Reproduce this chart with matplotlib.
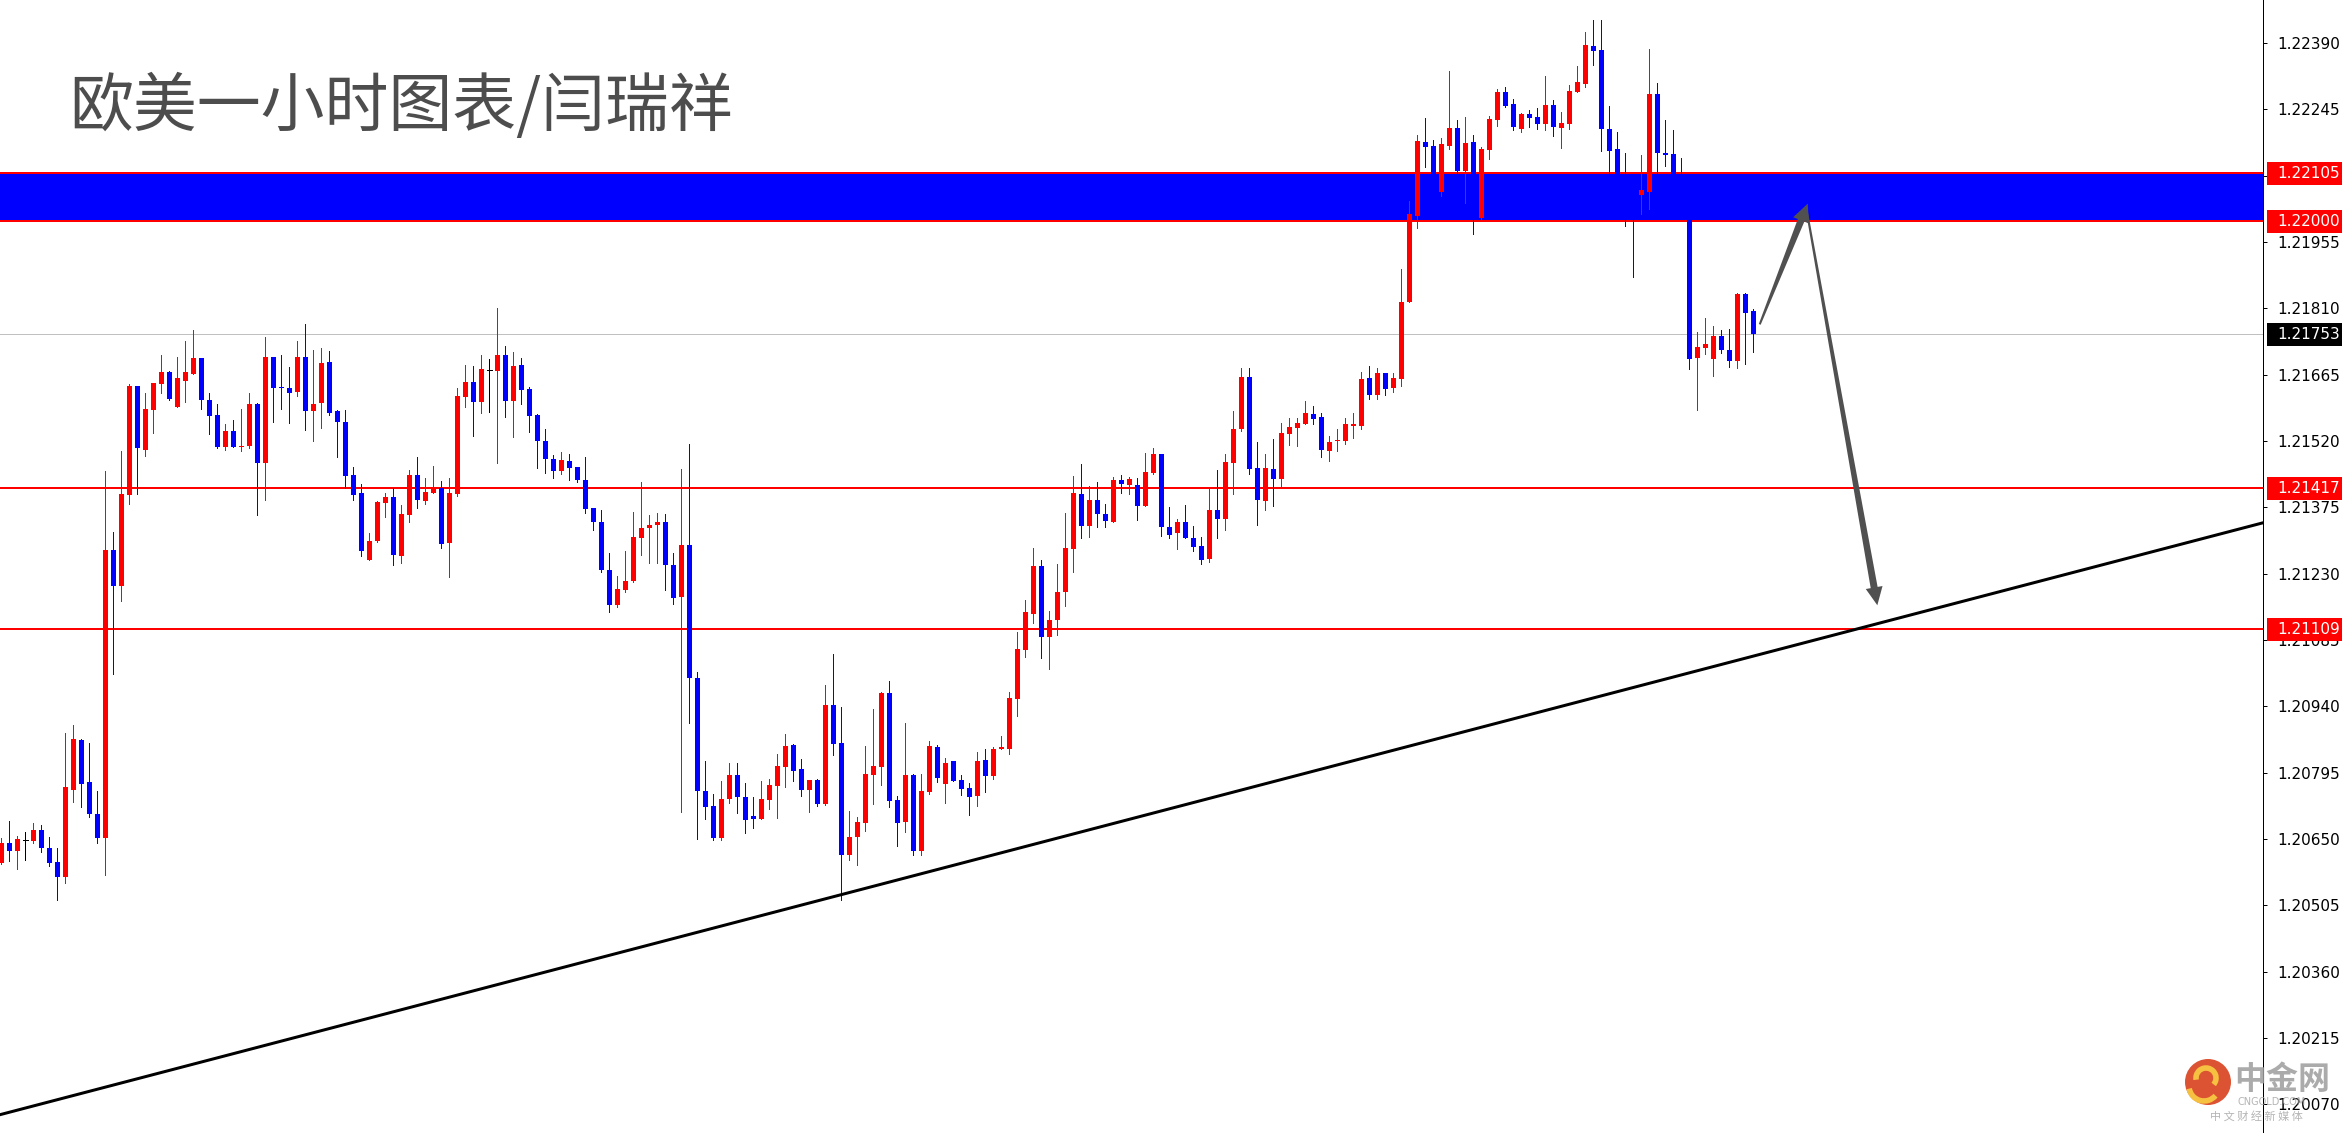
import numpy as np
import matplotlib
matplotlib.use("Agg")
import matplotlib.pyplot as plt
from matplotlib.patches import Polygon, Rectangle, Ellipse, Arc
import matplotlib.transforms as mtransforms

# EURUSD H1 candles, oldest first
opens = [
    1.20597, 1.20642, 1.20624, 1.20647, 1.20645, 1.20670, 1.20630, 1.20600, 1.20567, 1.20758,
    1.20866, 1.20774, 1.20704, 1.20653, 1.21282, 1.21204, 1.21402, 1.21640, 1.21501, 1.21587,
    1.21644, 1.21671, 1.21595, 1.21652, 1.21667, 1.21701, 1.21609, 1.21576, 1.21508, 1.21543,
    1.21508, 1.21509, 1.21600, 1.21473, 1.21703, 1.21637, 1.21637, 1.21627, 1.21703, 1.21585,
    1.21603, 1.21692, 1.21585, 1.21562, 1.21446, 1.21407, 1.21261, 1.21301, 1.21385, 1.21397,
    1.21269, 1.21358, 1.21446, 1.21389, 1.21407, 1.21418, 1.21297, 1.21404, 1.21616, 1.21650,
    1.21605, 1.21676, 1.21673, 1.21709, 1.21607, 1.21686, 1.21633, 1.21578, 1.21521, 1.21481,
    1.21455, 1.21476, 1.21464, 1.21435, 1.21373, 1.21344, 1.21239, 1.21161, 1.21194, 1.21213,
    1.21308, 1.21329, 1.21337, 1.21343, 1.21250, 1.21179, 1.21292, 1.21002, 1.20754, 1.20723,
    1.20653, 1.20737, 1.20789, 1.20741, 1.20701, 1.20693, 1.20735, 1.20766, 1.20807, 1.20855,
    1.20802, 1.20757, 1.20779, 1.20726, 1.20943, 1.20860, 1.20615, 1.20654, 1.20685, 1.20790,
    1.20807, 1.20970, 1.20735, 1.20687, 1.20790, 1.20624, 1.20753, 1.20851, 1.20770, 1.20820,
    1.20779, 1.20761, 1.20744, 1.20823, 1.20788, 1.20847, 1.20847, 1.20956, 1.21063, 1.21142,
    1.21247, 1.21092, 1.21129, 1.21189, 1.21285, 1.21404, 1.21335, 1.21391, 1.21361, 1.21344,
    1.21435, 1.21423, 1.21424, 1.21377, 1.21451, 1.21492, 1.21332, 1.21318, 1.21343, 1.21308,
    1.21291, 1.21263, 1.21369, 1.21349, 1.21471, 1.21546, 1.21660, 1.21461, 1.21388, 1.21459,
    1.21436, 1.21536, 1.21549, 1.21558, 1.21579, 1.21573, 1.21499, 1.21519, 1.21521, 1.21553,
    1.21553, 1.21658, 1.21621, 1.21669, 1.21636, 1.21656, 1.21825, 1.22013, 1.22174, 1.22166,
    1.22065, 1.22165, 1.22204, 1.22111, 1.22174, 1.22008, 1.22156, 1.22222, 1.22283, 1.22257,
    1.22202, 1.22235, 1.22228, 1.22213, 1.22255, 1.22204, 1.22213, 1.22283, 1.22301, 1.22384,
    1.22375, 1.22202, 1.22158, 1.22091, 1.22065, 1.22058, 1.22065, 1.22279, 1.22150, 1.22148,
    1.22091, 1.22047, 1.21702, 1.21723, 1.21699, 1.21750, 1.21719, 1.21695, 1.21841, 1.21804,
]
highs = [
    1.20653, 1.20689, 1.20657, 1.20666, 1.20684, 1.20681, 1.20655, 1.20630, 1.20882, 1.20900,
    1.20868, 1.20859, 1.20754, 1.21455, 1.21322, 1.21498, 1.21644, 1.21641, 1.21625, 1.21646,
    1.21708, 1.21673, 1.21703, 1.21738, 1.21762, 1.21701, 1.21624, 1.21602, 1.21558, 1.21566,
    1.21589, 1.21624, 1.21604, 1.21747, 1.21703, 1.21709, 1.21681, 1.21738, 1.21776, 1.21720,
    1.21723, 1.21716, 1.21587, 1.21588, 1.21464, 1.21425, 1.21318, 1.21389, 1.21406, 1.21417,
    1.21380, 1.21457, 1.21486, 1.21439, 1.21466, 1.21433, 1.21439, 1.21635, 1.21686, 1.21683,
    1.21708, 1.21699, 1.21810, 1.21727, 1.21714, 1.21701, 1.21639, 1.21580, 1.21547, 1.21490,
    1.21497, 1.21492, 1.21464, 1.21486, 1.21373, 1.21369, 1.21276, 1.21226, 1.21279, 1.21365,
    1.21430, 1.21358, 1.21362, 1.21360, 1.21276, 1.21459, 1.21514, 1.21015, 1.20820, 1.20748,
    1.20776, 1.20817, 1.20816, 1.20772, 1.20741, 1.20776, 1.20782, 1.20835, 1.20879, 1.20858,
    1.20825, 1.20779, 1.20781, 1.20987, 1.21054, 1.20939, 1.20711, 1.20697, 1.20853, 1.20934,
    1.20971, 1.20995, 1.20744, 1.20904, 1.20792, 1.20792, 1.20864, 1.20855, 1.20827, 1.20820,
    1.20790, 1.20772, 1.20840, 1.20847, 1.20851, 1.20875, 1.20971, 1.21103, 1.21172, 1.21287,
    1.21260, 1.21149, 1.21251, 1.21363, 1.21444, 1.21470, 1.21422, 1.21431, 1.21382, 1.21441,
    1.21446, 1.21441, 1.21439, 1.21494, 1.21505, 1.21492, 1.21376, 1.21350, 1.21380, 1.21334,
    1.21310, 1.21417, 1.21457, 1.21492, 1.21586, 1.21680, 1.21680, 1.21517, 1.21492, 1.21525,
    1.21559, 1.21570, 1.21570, 1.21608, 1.21597, 1.21581, 1.21531, 1.21546, 1.21570, 1.21581,
    1.21671, 1.21684, 1.21680, 1.21669, 1.21669, 1.21897, 1.22045, 1.22188, 1.22226, 1.22178,
    1.22183, 1.22329, 1.22222, 1.22228, 1.22189, 1.22163, 1.22231, 1.22290, 1.22294, 1.22268,
    1.22237, 1.22244, 1.22248, 1.22318, 1.22266, 1.22239, 1.22298, 1.22340, 1.22414, 1.22441,
    1.22441, 1.22252, 1.22196, 1.22150, 1.22076, 1.22145, 1.22377, 1.22303, 1.22222, 1.22200,
    1.22139, 1.22062, 1.21758, 1.21789, 1.21771, 1.21763, 1.21765, 1.21844, 1.21844, 1.21809,
]
lows = [
    1.20596, 1.20601, 1.20584, 1.20604, 1.20642, 1.20622, 1.20592, 1.20517, 1.20554, 1.20731,
    1.20721, 1.20698, 1.20641, 1.20572, 1.21011, 1.21171, 1.21383, 1.21404, 1.21487, 1.21538,
    1.21624, 1.21609, 1.21595, 1.21605, 1.21667, 1.21591, 1.21536, 1.21504, 1.21501, 1.21508,
    1.21498, 1.21504, 1.21358, 1.21392, 1.21562, 1.21591, 1.21559, 1.21619, 1.21545, 1.21519,
    1.21548, 1.21577, 1.21484, 1.21418, 1.21392, 1.21269, 1.21260, 1.21299, 1.21354, 1.21250,
    1.21253, 1.21343, 1.21374, 1.21383, 1.21407, 1.21286, 1.21223, 1.21400, 1.21595, 1.21530,
    1.21581, 1.21583, 1.21473, 1.21572, 1.21528, 1.21601, 1.21540, 1.21462, 1.21451, 1.21440,
    1.21449, 1.21434, 1.21431, 1.21363, 1.21326, 1.21234, 1.21146, 1.21158, 1.21191, 1.21211,
    1.21271, 1.21254, 1.21254, 1.21194, 1.21164, 1.20710, 1.20904, 1.20649, 1.20693, 1.20647,
    1.20647, 1.20728, 1.20706, 1.20662, 1.20673, 1.20693, 1.20715, 1.20695, 1.20763, 1.20777,
    1.20744, 1.20710, 1.20722, 1.20724, 1.20834, 1.20517, 1.20605, 1.20594, 1.20667, 1.20726,
    1.20768, 1.20720, 1.20635, 1.20666, 1.20615, 1.20615, 1.20749, 1.20775, 1.20729, 1.20777,
    1.20746, 1.20702, 1.20722, 1.20753, 1.20781, 1.20846, 1.20835, 1.20919, 1.21048, 1.21123,
    1.21046, 1.21022, 1.21096, 1.21160, 1.21234, 1.21309, 1.21311, 1.21333, 1.21331, 1.21344,
    1.21407, 1.21405, 1.21348, 1.21377, 1.21448, 1.21313, 1.21307, 1.21283, 1.21307, 1.21280,
    1.21252, 1.21256, 1.21307, 1.21326, 1.21405, 1.21543, 1.21449, 1.21337, 1.21370, 1.21379,
    1.21419, 1.21512, 1.21510, 1.21558, 1.21557, 1.21486, 1.21477, 1.21499, 1.21514, 1.21527,
    1.21546, 1.21612, 1.21612, 1.21621, 1.21627, 1.21640, 1.21823, 1.21986, 1.22119, 1.22054,
    1.22056, 1.22158, 1.22098, 1.22040, 1.21973, 1.22001, 1.22137, 1.22209, 1.22250, 1.22200,
    1.22196, 1.22207, 1.22202, 1.22200, 1.22187, 1.22161, 1.22202, 1.22283, 1.22294, 1.22342,
    1.22154, 1.22098, 1.22061, 1.21990, 1.21879, 1.22016, 1.22027, 1.22106, 1.22121, 1.22076,
    1.22032, 1.21677, 1.21588, 1.21710, 1.21662, 1.21712, 1.21682, 1.21680, 1.21688, 1.21715,
]
closes = [
    1.20642, 1.20624, 1.20649, 1.20647, 1.20670, 1.20630, 1.20598, 1.20567, 1.20763, 1.20868,
    1.20771, 1.20704, 1.20653, 1.21282, 1.21203, 1.21404, 1.21641, 1.21504, 1.21589, 1.21646,
    1.21672, 1.21612, 1.21657, 1.21670, 1.21701, 1.21609, 1.21574, 1.21508, 1.21543, 1.21508,
    1.21510, 1.21600, 1.21473, 1.21704, 1.21635, 1.21635, 1.21625, 1.21703, 1.21585, 1.21602,
    1.21690, 1.21582, 1.21561, 1.21444, 1.21402, 1.21280, 1.21301, 1.21387, 1.21397, 1.21271,
    1.21360, 1.21446, 1.21392, 1.21408, 1.21417, 1.21295, 1.21407, 1.21618, 1.21648, 1.21605,
    1.21677, 1.21676, 1.21709, 1.21607, 1.21683, 1.21631, 1.21574, 1.21519, 1.21480, 1.21455,
    1.21479, 1.21460, 1.21434, 1.21372, 1.21344, 1.21237, 1.21161, 1.21196, 1.21215, 1.21310,
    1.21329, 1.21336, 1.21343, 1.21249, 1.21176, 1.21292, 1.21001, 1.20754, 1.20721, 1.20653,
    1.20738, 1.20789, 1.20742, 1.20691, 1.20693, 1.20738, 1.20767, 1.20809, 1.20853, 1.20799,
    1.20757, 1.20779, 1.20726, 1.20943, 1.20858, 1.20615, 1.20654, 1.20687, 1.20792, 1.20809,
    1.20970, 1.20733, 1.20685, 1.20790, 1.20624, 1.20755, 1.20853, 1.20783, 1.20816, 1.20777,
    1.20759, 1.20742, 1.20820, 1.20788, 1.20847, 1.20850, 1.20958, 1.21065, 1.21146, 1.21247,
    1.21092, 1.21129, 1.21190, 1.21286, 1.21406, 1.21335, 1.21391, 1.21361, 1.21346, 1.21435,
    1.21425, 1.21437, 1.21377, 1.21452, 1.21492, 1.21331, 1.21315, 1.21343, 1.21307, 1.21289,
    1.21261, 1.21369, 1.21349, 1.21474, 1.21546, 1.21660, 1.21459, 1.21390, 1.21461, 1.21436,
    1.21538, 1.21551, 1.21560, 1.21581, 1.21569, 1.21501, 1.21518, 1.21522, 1.21557, 1.21557,
    1.21656, 1.21621, 1.21669, 1.21634, 1.21658, 1.21825, 1.22017, 1.22177, 1.22163, 1.22065,
    1.22169, 1.22204, 1.22111, 1.22172, 1.22008, 1.22158, 1.22224, 1.22283, 1.22252, 1.22207,
    1.22235, 1.22226, 1.22213, 1.22255, 1.22207, 1.22215, 1.22285, 1.22305, 1.22386, 1.22373,
    1.22202, 1.22154, 1.22091, 1.22065, 1.22054, 1.22069, 1.22279, 1.22150, 1.22145, 1.22091,
    1.22047, 1.21699, 1.21726, 1.21732, 1.21750, 1.21719, 1.21695, 1.21841, 1.21800, 1.21753,
]

title = "欧美一小时图表/闫瑞祥"
zone = (1.22000, 1.22105)            # blue resistance zone
support_levels = [1.21417, 1.21109]  # red horizontal lines
last_price = 1.21753
tick_labels = ["1.22390", "1.22245", "1.22100", "1.21955", "1.21810", "1.21665",
               "1.21520", "1.21375", "1.21230", "1.21085", "1.20940", "1.20795",
               "1.20650", "1.20505", "1.20360", "1.20215", "1.20070"]
# trend line through two points (candle index, price)
trend_x = [0, 282]
trend_y = [1.20048, 1.21338]
# drawn arrows: start -> tip (candle index, price)
arrow_up = [(219.8, 1.21775), (225.8, 1.22039)]
arrow_down = [(225.7, 1.22021), (234.5, 1.21161)]

W, H = 2342, 1133
PX = 0.72  # one pixel in points at dpi 100
fig = plt.figure(figsize=(W / 100, H / 100), dpi=100, facecolor="white")
ax = fig.add_axes([0, 0, 2263 / W, 1])
ax.set_facecolor("white")

o = np.array(opens)
h = np.array(highs)
l = np.array(lows)
c = np.array(closes)
idx = np.arange(len(o))
cols = np.where(c > o, "#ff0000", np.where(c < o, "#0000ff", "#000000"))

# zone and lines
ax.axhspan(zone[0], zone[1], color="#0000ff", lw=0, zorder=1)
for lv in [zone[0], zone[1]] + support_levels:
    ax.axhline(lv, color="#ff0000", lw=2 * PX, zorder=2)
ax.axhline(last_price, color="#c0c0c0", lw=PX, zorder=1.5)

# candles
ax.vlines(idx, l, h, colors=cols, lw=PX, antialiased=False, zorder=3)
body_w = 0.625
hgt = np.maximum(np.abs(c - o), 0.000022)
bot = np.minimum(o, c)
body = c != o
ax.bar(idx[body], hgt[body], bottom=bot[body], width=body_w, color=cols[body],
       lw=0, antialiased=False, zorder=3)
doji = ~body
ax.hlines(o[doji], idx[doji] - body_w / 2, idx[doji] + body_w / 2, colors="black",
          lw=PX, antialiased=False, zorder=3)

ax.axline((trend_x[0], trend_y[0]), (trend_x[1], trend_y[1]), color="black",
          lw=3 * PX, zorder=4)

ax.set_xlim(-1.33 / 8, (2263 - 1.33) / 8)
ax.set_ylim(1.200072, 1.224842)
ax.set_autoscale_on(False)

# right price axis
for s in ["left", "top", "bottom"]:
    ax.spines[s].set_visible(False)
ax.spines["right"].set_linewidth(PX)
ax.xaxis.set_visible(False)
ax.yaxis.tick_right()
ax.set_yticks([float(t) for t in tick_labels])
ax.set_yticklabels(tick_labels)
ax.tick_params(axis="y", direction="out", length=3, width=PX, pad=7,
               labelsize=11, labelcolor="black")

ytr = ax.get_yaxis_transform()
box_h = 23 / 45740
for lv, fc in [(zone[1], "#ff0000"), (zone[0], "#ff0000"), (last_price, "#000000"),
               (support_levels[0], "#ff0000"), (support_levels[1], "#ff0000")]:
    ax.add_patch(Rectangle((1.0018, lv - box_h / 2), 0.04, box_h, transform=ytr,
                           fc=fc, ec="none", clip_on=False, zorder=10))
    ax.text(1.0062, lv, f"{lv:.5f}", transform=ytr, color="white", fontsize=11,
            ha="left", va="center", clip_on=False, zorder=11)


def draw_arrow(p0, p1, w0=2, w1=7, head_w=17, head_len=18):
    a = ax.transData.transform(p0)
    b = ax.transData.transform(p1)
    d = b - a
    u = d / np.hypot(*d)
    n = np.array([-u[1], u[0]])
    neck = b - u * head_len
    pts = [a + n * w0 / 2, neck + n * w1 / 2, neck + n * head_w / 2, b,
           neck - n * head_w / 2, neck - n * w1 / 2, a - n * w0 / 2]
    fig.add_artist(Polygon(pts, closed=True, transform=mtransforms.IdentityTransform(),
                           fc="#505050", ec="none", zorder=6))


draw_arrow(*arrow_up)
draw_arrow(*arrow_down)

# title
cjk = ["Noto Sans CJK SC", "DejaVu Sans"]
fig.text(69 / W, 1 - 108 / H, title, fontsize=46, color="#4d4d4d", family=cjk,
         ha="left", va="center")

# watermark logo bottom right
def fx(x):
    return x / W


def fy(y):
    return 1 - y / H


fig.add_artist(Ellipse((fx(2208), fy(1082)), 46 / W, 46 / H, transform=fig.transFigure,
                       fc="#d8401c", ec="none", alpha=0.9, zorder=20))
fig.add_artist(Arc((fx(2206), fy(1078)), 20 / W, 20 / H, theta1=-60, theta2=200,
                   transform=fig.transFigure, color="#f6c141", lw=4, zorder=21))
fig.add_artist(Arc((fx(2204), fy(1086)), 30 / W, 30 / H, theta1=200, theta2=300,
                   transform=fig.transFigure, color="#f6c141", lw=4, zorder=21))
fig.text(fx(2282), fy(1080), "中金网", fontsize=23, weight="bold", color="#9c9c9c",
         family=cjk, ha="center", va="center", alpha=0.85, zorder=21)
fig.text(fx(2272), fy(1102), "CNGOLD.COM", fontsize=7, color="#a8a8a8",
         ha="center", va="center", alpha=0.85, zorder=21)
fig.text(fx(2256), fy(1116), "中 文 财 经 新 媒 体", fontsize=8, color="#a8a8a8",
         family=cjk, ha="center", va="center", alpha=0.85, zorder=21)

fig.savefig("out.png", dpi=100, facecolor="white")
